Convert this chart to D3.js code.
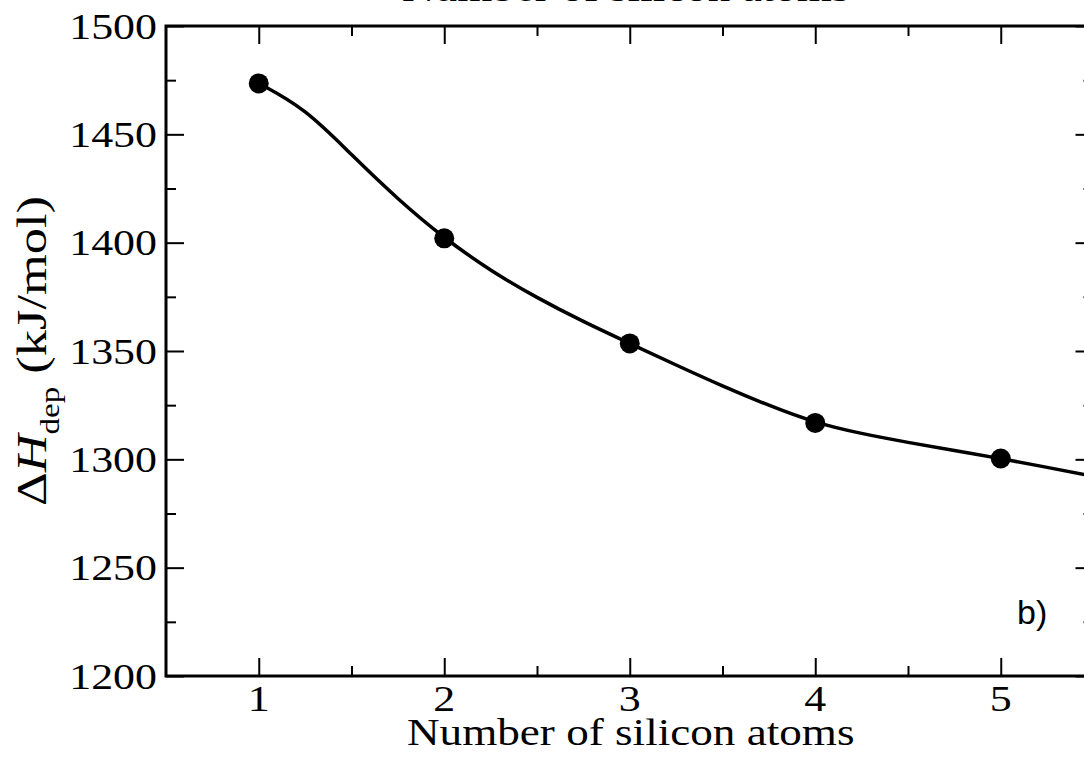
<!DOCTYPE html>
<html>
<head>
<meta charset="utf-8">
<script src="https://cdn.jsdelivr.net/npm/d3@7"></script>
<style>
  html, body { margin: 0; padding: 0; background: #fff; }
  svg { display: block; }
</style>
</head>
<body>
<script>
// Computed deposition enthalpies per number of silicon atoms
const atomCounts = [1, 2, 3, 4, 5];
const depositionEnthalpy = [1473.5, 1402.0, 1353.5, 1316.8, 1300.4];

// Smooth fitted curve
const fitX = [1.0, 1.25, 1.5, 1.75, 2.0, 2.25, 2.5, 2.75, 3.0, 3.25, 3.5, 3.75, 4.0, 4.25, 4.5, 4.75, 5.0, 5.25, 5.5];
const fitY = [1473.5, 1462.0, 1440.5, 1420.0, 1402.0, 1387.0, 1374.5, 1363.5, 1353.5, 1343.5, 1333.8, 1324.8, 1316.8, 1311.8, 1307.8, 1304.0, 1300.4, 1296.3, 1292.2];

// Axis ticks
const xMajorTicks = [1, 2, 3, 4, 5];
const xMinorTicks = [1.5, 2.5, 3.5, 4.5];
const yMajorTicks = [1200, 1250, 1300, 1350, 1400, 1450, 1500];
const yMinorTicks = [1225, 1275, 1325, 1375, 1425, 1475];

const xDomain = [0.5, 5.5];
const yDomain = [1200, 1500];
const xTitle = "Number of silicon atoms";
const panelTag = "b)";

const W = 1084, H = 760;
const plotL = 166, plotR = 1093.5, plotT = 26, plotB = 676;
const serif = "'Liberation Serif', 'Times New Roman', serif";
const stretch = 1.22;

const svg = d3.select("body").append("svg")
  .attr("width", W).attr("height", H)
  .style("background", "#fff");

const x = d3.scaleLinear().domain(xDomain).range([plotL, plotR]);
const y = d3.scaleLinear().domain(yDomain).range([plotB, plotT]);

// Tick marks (all pointing into the plot)
function ticks(axisGen, values, size, transform) {
  const g = svg.append("g").attr("transform", transform)
    .call(axisGen.tickValues(values).tickSize(-size).tickSizeOuter(0).tickFormat(""));
  g.select(".domain").remove();
  g.selectAll(".tick line").attr("stroke", "#000").attr("stroke-width", 2);
  return g;
}
ticks(d3.axisBottom(x), xMajorTicks, 18, `translate(0,${plotB})`);
ticks(d3.axisBottom(x), xMinorTicks, 10, `translate(0,${plotB})`);
ticks(d3.axisTop(x), xMajorTicks, 18, `translate(0,${plotT})`);
ticks(d3.axisTop(x), xMinorTicks, 10, `translate(0,${plotT})`);
ticks(d3.axisLeft(y), yMajorTicks, 18, `translate(${plotL},0)`);
ticks(d3.axisLeft(y), yMinorTicks, 10, `translate(${plotL},0)`);
ticks(d3.axisRight(y), yMajorTicks, 18, `translate(${plotR},0)`);
ticks(d3.axisRight(y), yMinorTicks, 10, `translate(${plotR},0)`);

// Frame
svg.append("rect")
  .attr("x", plotL).attr("y", plotT)
  .attr("width", plotR - plotL).attr("height", plotB - plotT)
  .attr("fill", "none").attr("stroke", "#000").attr("stroke-width", 3);

// Tick labels
svg.append("g").selectAll("text").data(xMajorTicks).join("text")
  .attr("transform", d => `translate(${x(d)},711) scale(${stretch},1)`)
  .attr("text-anchor", "middle")
  .style("font-family", serif).style("font-size", "36px")
  .text(d => d);

svg.append("g").selectAll("text").data(yMajorTicks).join("text")
  .attr("transform", d => `translate(157,${y(d) + 12.5}) scale(${stretch},1)`)
  .attr("text-anchor", "end")
  .style("font-family", serif).style("font-size", "36px")
  .text(d => d);

// Axis titles (bottom and top)
svg.append("text")
  .attr("transform", `translate(${(plotL + plotR) / 2 + 1},745) scale(${stretch},1)`)
  .attr("text-anchor", "middle")
  .style("font-family", serif).style("font-size", "37px")
  .text(xTitle);

svg.append("text")
  .attr("transform", `translate(${(plotL + plotR) / 2 - 4},1) scale(${stretch},1)`)
  .attr("text-anchor", "middle")
  .style("font-family", serif).style("font-size", "37px")
  .text(xTitle);

// Y axis title: ΔH_dep (kJ/mol)
const yt = svg.append("text")
  .attr("transform", `translate(46,351) rotate(-90) scale(${stretch},1)`)
  .attr("text-anchor", "middle")
  .style("font-family", serif).style("font-size", "43px");
yt.append("tspan").text("\u0394");
yt.append("tspan").style("font-style", "italic").text("H");
yt.append("tspan").attr("dy", 13).style("font-size", "27px").text("dep");
yt.append("tspan").attr("dy", -13).text("\u00a0(kJ/mol)");

// Clip for the fitted curve
svg.append("clipPath").attr("id", "plot-clip")
  .append("rect").attr("x", plotL).attr("y", plotT)
  .attr("width", plotR - plotL).attr("height", plotB - plotT);

const fitData = fitX.map((v, i) => [v, fitY[i]]);
svg.append("path")
  .datum(fitData)
  .attr("clip-path", "url(#plot-clip)")
  .attr("fill", "none").attr("stroke", "#000").attr("stroke-width", 3.5)
  .attr("stroke-linejoin", "round")
  .attr("d", d3.line().x(d => x(d[0])).y(d => y(d[1])).curve(d3.curveBasis));

// Data points
svg.append("g").selectAll("circle")
  .data(atomCounts.map((v, i) => [v, depositionEnthalpy[i]]))
  .join("circle")
  .attr("cx", d => x(d[0])).attr("cy", d => y(d[1]))
  .attr("r", 10).attr("fill", "#000");

// Panel tag
svg.append("text")
  .attr("x", 1017).attr("y", 624)
  .style("font-family", "'Liberation Sans', Arial, sans-serif").style("font-size", "34px")
  .text(panelTag);
</script>
</body>
</html>
